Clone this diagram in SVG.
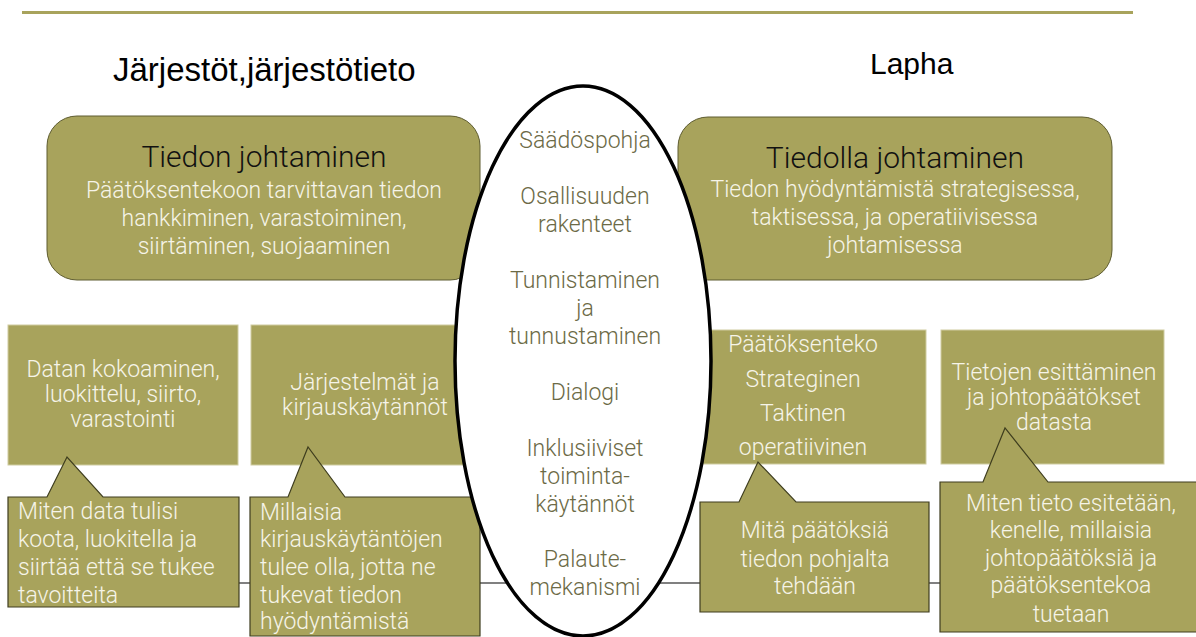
<svg xmlns="http://www.w3.org/2000/svg" width="1196" height="637" viewBox="0 0 1196 637">
<style>
.fill{fill:#a8a35c}
.rbox{fill:#a8a35c;stroke:#5e5c30;stroke-width:1}
.box{fill:#a8a35c;stroke:#cfcca0;stroke-width:1}
.call{fill:#a8a35c;stroke:#3e3d1e;stroke-width:1.2}
.t{font-family:Roboto,"Liberation Sans",sans-serif;font-weight:300}
.w{fill:#f6f4e8;font-size:23px}
.h{fill:#111;font-size:30px;text-anchor:middle}
.c{text-anchor:middle}
.e{fill:#6c6a46;font-size:23px;text-anchor:middle}
.head{font-family:"Liberation Sans",Arial,sans-serif;fill:#000}
</style>
<rect width="1196" height="637" fill="#fff"/>
<line x1="22" y1="12.5" x2="1133" y2="12.5" stroke="#a8a35c" stroke-width="3"/>
<text class="head" x="113" y="81" font-size="33">Järjestöt,järjestötieto</text>
<text class="head" x="870" y="74" font-size="30">Lapha</text>

<g id="connectors">
<line x1="239" y1="583" x2="940" y2="583" stroke="#808080" stroke-width="2"/>
</g>

<g id="tiedon-johtaminen">
<rect class="rbox" x="47" y="116" width="433" height="164" rx="30"/>
<text class="t h" x="264" y="167">Tiedon johtaminen</text>
<text class="t w c" x="264" y="198">Päätöksentekoon tarvittavan tiedon</text>
<text class="t w c" x="264" y="226">hankkiminen, varastoiminen,</text>
<text class="t w c" x="264" y="254">siirtäminen, suojaaminen</text>
</g>

<g id="tiedolla-johtaminen">
<rect class="rbox" x="678" y="117" width="434" height="163" rx="30"/>
<text class="t h" x="895" y="168">Tiedolla johtaminen</text>
<text class="t w c" x="895" y="197">Tiedon hyödyntämistä strategisessa,</text>
<text class="t w c" x="895" y="225">taktisessa, ja operatiivisessa</text>
<text class="t w c" x="895" y="253">johtamisessa</text>
</g>

<g id="datan-kokoaminen">
<rect class="box" x="8" y="325" width="230" height="140"/>
<text class="t w c" x="123" y="377">Datan kokoaminen,</text>
<text class="t w c" x="123" y="402">luokittelu, siirto,</text>
<text class="t w c" x="123" y="427">varastointi</text>
</g>

<g id="jarjestelmat">
<rect class="box" x="251" y="325" width="229" height="140"/>
<text class="t w c" x="365" y="390">Järjestelmät ja</text>
<text class="t w c" x="365" y="415">kirjauskäytännöt</text>
</g>

<g id="paatoksenteko">
<rect class="box" x="700" y="330" width="226" height="134"/>
<text class="t w c" x="803" y="352">Päätöksenteko</text>
<text class="t w c" x="803" y="387">Strateginen</text>
<text class="t w c" x="803" y="421">Taktinen</text>
<text class="t w c" x="803" y="455">operatiivinen</text>
</g>

<g id="tietojen-esittaminen">
<rect class="box" x="941" y="330" width="223" height="134"/>
<text class="t w c" x="1054" y="380">Tietojen esittäminen</text>
<text class="t w c" x="1054" y="405">ja johtopäätökset</text>
<text class="t w c" x="1054" y="430">datasta</text>
</g>

<g id="callout-data">
<path class="call" d="M8,497 H47 L67,457 L103,497 H239 V607 H8 Z"/>
<text class="t w" x="18" y="519">Miten data tulisi</text>
<text class="t w" x="18" y="547">koota, luokitella ja</text>
<text class="t w" x="18" y="575">siirtää että se tukee</text>
<text class="t w" x="18" y="603">tavoitteita</text>
</g>

<g id="callout-kirjaus">
<path class="call" d="M250,497 H288 L308,447 L345,497 H480 V636 H250 Z"/>
<text class="t w" x="260" y="520">Millaisia</text>
<text class="t w" x="260" y="547">kirjauskäytäntöjen</text>
<text class="t w" x="260" y="575">tulee olla, jotta ne</text>
<text class="t w" x="260" y="603">tukevat tiedon</text>
<text class="t w" x="260" y="629">hyödyntämistä</text>
</g>

<g id="callout-paatokset">
<path class="call" d="M700,502 H739 L758,462 L796,502 H929 V612 H700 Z"/>
<text class="t w c" x="815" y="538">Mitä päätöksiä</text>
<text class="t w c" x="815" y="567">tiedon pohjalta</text>
<text class="t w c" x="815" y="594">tehdään</text>
</g>

<g id="callout-esitys">
<path class="call" d="M940,482 H983 L1005,428 L1048,482 H1202 V632 H940 Z"/>
<text class="t w c" x="1071" y="511">Miten tieto esitetään,</text>
<text class="t w c" x="1071" y="538">kenelle, millaisia</text>
<text class="t w c" x="1071" y="566">johtopäätöksiä ja</text>
<text class="t w c" x="1071" y="593">päätöksentekoa</text>
<text class="t w c" x="1071" y="622">tuetaan</text>
</g>

<g id="ellipse">
<ellipse cx="583" cy="361" rx="128" ry="275" fill="#fff" stroke="#000" stroke-width="3.5"/>
<text class="t e" x="585" y="148">Säädöspohja</text>
<text class="t e" x="585" y="204">Osallisuuden</text>
<text class="t e" x="585" y="232">rakenteet</text>
<text class="t e" x="585" y="288">Tunnistaminen</text>
<text class="t e" x="585" y="316">ja</text>
<text class="t e" x="585" y="344">tunnustaminen</text>
<text class="t e" x="585" y="400">Dialogi</text>
<text class="t e" x="585" y="456">Inklusiiviset</text>
<text class="t e" x="585" y="484">toiminta-</text>
<text class="t e" x="585" y="512">käytännöt</text>
<text class="t e" x="585" y="567">Palaute-</text>
<text class="t e" x="585" y="595">mekanismi</text>
</g>
</svg>
